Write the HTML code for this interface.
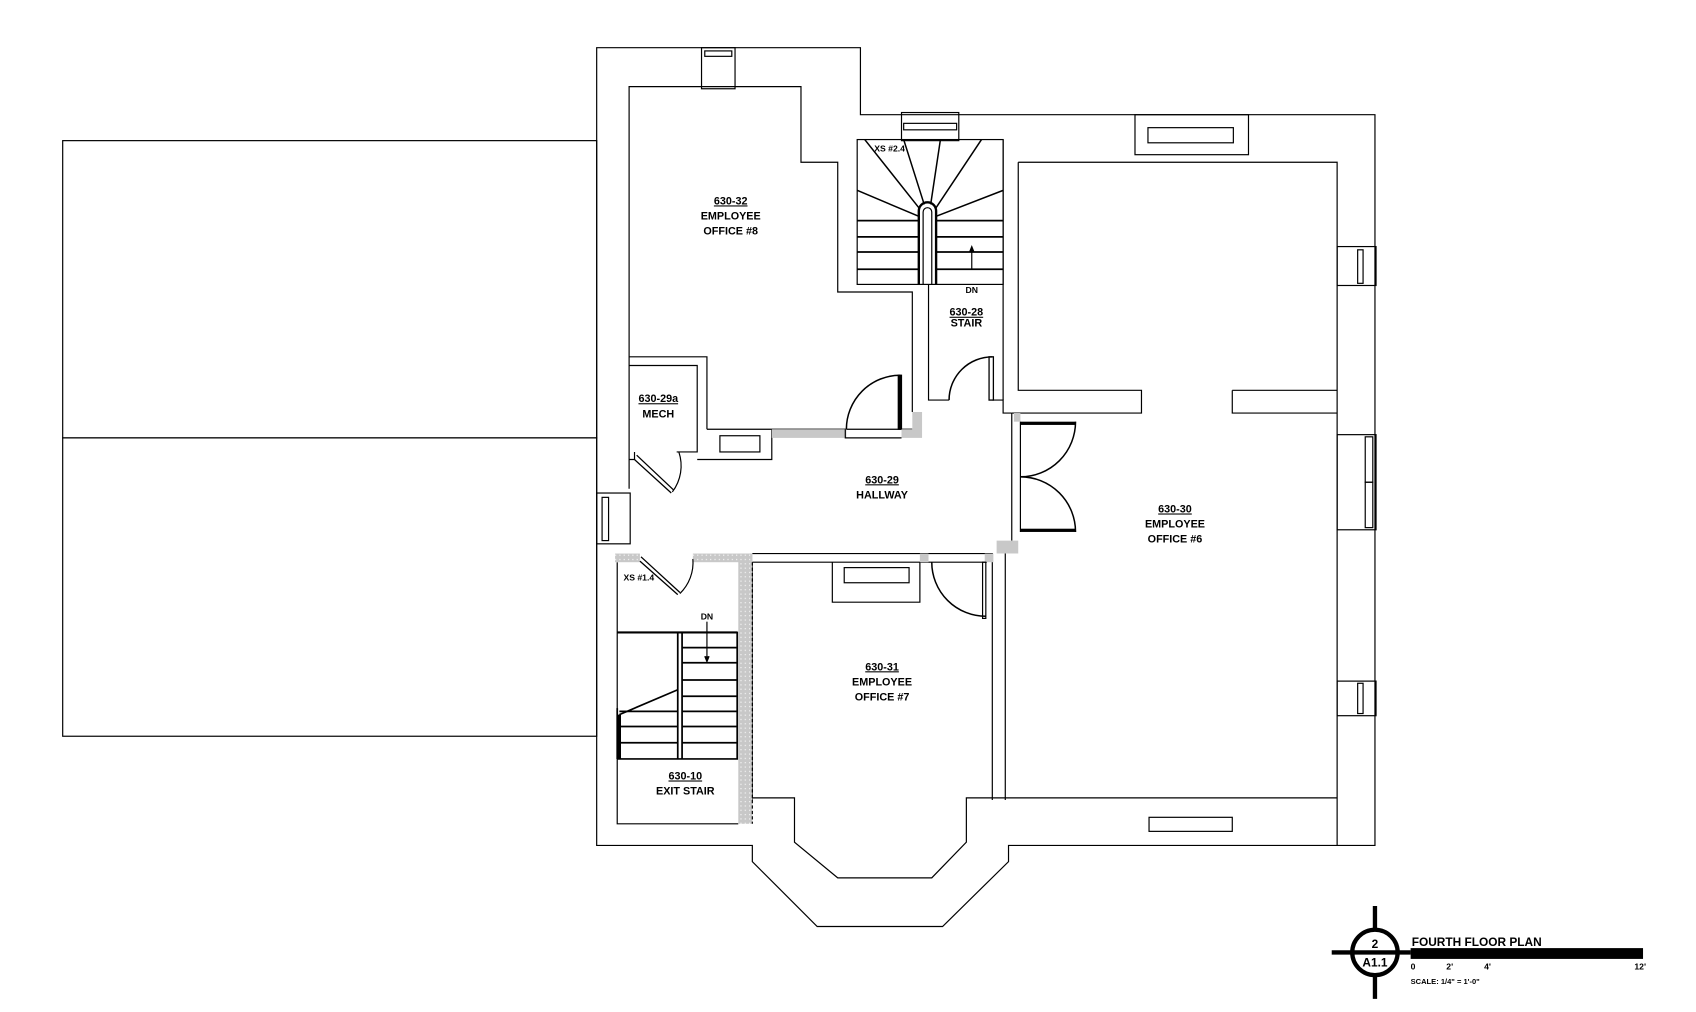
<!DOCTYPE html>
<html><head><meta charset="utf-8"><style>html,body{margin:0;padding:0;background:#fff}svg{display:block}</style></head><body>
<svg width="1696" height="1012" viewBox="0 0 1569 936" xmlns="http://www.w3.org/2000/svg" font-family="Liberation Sans, sans-serif" font-weight="bold">
<defs><pattern id="h" width="4" height="4" patternUnits="userSpaceOnUse"><rect width="4" height="4" fill="#c8c8c8"/><rect x="1" y="1" width="1" height="1" fill="#fff"/></pattern></defs>
<g fill="none" stroke="#000" stroke-width="1.1">
<rect x="58" y="130" width="494" height="275"/><rect x="58" y="405" width="494" height="276"/>
<path d="M552,44 H796 V106 H1272 V782 H933 V797 L872,857 H756 L696,797 V782 H552 Z"/>
<path d="M696,738 H735 V779 L775,812 H862 L894,779 V738 H1237"/>
<path d="M582,452 V80 H741 V150 H775 V270 H844 V381"/>
<path d="M654,397 H844"/>
<path d="M582,330 H654 V397"/><path d="M582,338 H645 V418 H626"/>
<path d="M645,425 H714 V397"/><rect x="666" y="403" width="37" height="15"/>
<path d="M587,418 V425 H582"/>
<rect x="649" y="44" width="31" height="38"/><rect x="652" y="47" width="25" height="5"/>
<rect x="834" y="104" width="53" height="26"/><rect x="836" y="114" width="49" height="6"/>
<rect x="793" y="129" width="135" height="134"/>
<path d="M859,263 V370 H878"/><path d="M918,370 H928 V382 H936"/>
<path d="M850,263 V195 A8,8 0 0 1 866,195 V263" stroke-width="2.2"/>
<path d="M854,263 V196 A4,4 0 0 1 862,196 V263"/>
<path d="M793,204 H850 M793,219 H850 M793,233 H850 M793,249 H850 M866,204 H928 M866,219 H928 M866,233 H928 M866,249 H928" stroke-width="1.6"/>
<path d="M800,129 L850,192 M793,176 L850,200 M836,129 L855,189 M861,189 L870,129 M866,192 L908,129 M866,200 L928,176" stroke-width="1.4"/>
<path d="M899,249 V229" /><path d="M897,233 L899,228 L901,233" fill="#000"/>
<path d="M878,370 A40,40 0 0 1 918,330" stroke-width="1.4"/><rect x="915" y="330" width="4" height="40" stroke-width="1.2"/>
<path d="M783,397 A50,50 0 0 1 833,347" stroke-width="1.4"/><rect x="831" y="347" width="3" height="50" fill="#000"/>
<rect x="714" y="397" width="69" height="8" fill="#c8c8c8" stroke="none"/>
<path d="M782,397 V405 H834" />
<path d="M834,397 H844 V381 H853 V405 H834 Z" fill="#c8c8c8" stroke="none"/>
<path d="M928,129 V370"/>
<path d="M942,150 H1237 V782 M942,150 V361 H1056 V382 H936"/>
<path d="M1140,361 H1237 M1140,361 V382 H1237"/>
<rect x="1050" y="106" width="105" height="37"/><rect x="1062" y="118" width="79" height="14"/>
<rect x="1063" y="756" width="77" height="13"/>
<rect x="1237" y="228" width="36" height="36"/><rect x="1256" y="231" width="5" height="31"/>
<rect x="1237" y="402" width="36" height="88"/><rect x="1263" y="404" width="7" height="42"/><rect x="1263" y="446" width="7" height="42"/>
<rect x="1237" y="630" width="36" height="32"/><rect x="1256" y="632" width="5" height="28"/>
<rect x="552" y="456" width="31" height="47"/><rect x="557" y="460" width="6" height="40"/>
<path d="M936,382 V500 M944,390 V492"/>
<rect x="938" y="382" width="6" height="8" fill="#c8c8c8" stroke="none"/>
<rect x="944" y="390" width="51" height="3" fill="#000" stroke="none"/>
<rect x="944" y="489" width="51" height="3" fill="#000" stroke="none"/>
<path d="M995,390 A51,51 0 0 1 944,441 M944,441 A51,51 0 0 1 995,492" stroke-width="1.4"/>
<path d="M942,492 V500 H922 V512 H942 Z" fill="#c8c8c8" stroke="none"/>
<path d="M696,512 H918 V740 M696,520 V740 M696,520 H913 M930,512 V740"/>
<path d="M770,520 V557 H851 V520"/><rect x="781" y="525" width="60" height="14"/>
<rect x="851" y="512" width="8" height="8" fill="#c8c8c8" stroke="none"/>
<rect x="911" y="512" width="8" height="8" fill="#c8c8c8" stroke="none"/>
<path d="M862,520 A50,50 0 0 0 912,570" stroke-width="1.4"/><rect x="909" y="520" width="3" height="52"/>
<path d="M571,520 V762 H683"/>
<rect x="569" y="512" width="23" height="8" fill="url(#h)" stroke="none"/>
<rect x="641" y="512" width="55" height="8" fill="url(#h)" stroke="none"/>
<rect x="683" y="512" width="13" height="250" fill="url(#h)" stroke="none"/>
<path d="M696,520 V762" stroke-dasharray="3,2"/>
<path d="M592,519 L627,550 M593,515 L629,548" stroke-width="1.2"/><path d="M629,549 A40,40 0 0 0 641,517" />
<path d="M587,425 L621,456 M589,421 L623,453" stroke-width="1.2"/><path d="M622,455 A40,40 0 0 0 628,418"/>
<path d="M571,585 H682 V702 H571 M571,655 V702" stroke-width="1.6"/>
<path d="M571,585 H682" stroke-width="2"/>
<path d="M627,585 V702 M631,585 V702" stroke-width="1.6"/>
<path d="M631,599 H682 M631,613 H682 M631,629 H682 M631,644 H682 M631,658 H682 M631,672 H682 M631,687 H682 M573,658 H627 M573,672 H627 M573,687 H627" stroke-width="1.6"/>
<path d="M573,661 L627,638" stroke-width="1.6"/><path d="M573,661 V702" stroke-width="3"/>
<path d="M654,575 V611"/><path d="M652,607 L654,612 L656,607" fill="#000"/>
<circle cx="1272" cy="881" r="21" stroke-width="4"/>
<path d="M1272,838 V860 M1272,902 V924 M1232,881 H1305" stroke-width="4"/>
</g>
<rect x="1305" y="877" width="215" height="10" fill="#000"/>
<g font-size="10" text-anchor="middle" fill="#000">
<text x="676" y="189" text-decoration="underline">630-32</text><text x="676" y="203">EMPLOYEE</text><text x="676" y="217">OFFICE #8</text>
<text x="609" y="372" text-decoration="underline">630-29a</text><text x="609" y="386">MECH</text>
<text x="894" y="292" text-decoration="underline">630-28</text><text x="894" y="302">STAIR</text>
<text x="899" y="271" font-size="8">DN</text>
<text x="823" y="140" font-size="8">XS #2.4</text>
<text x="816" y="447" text-decoration="underline">630-29</text><text x="816" y="461">HALLWAY</text>
<text x="1087" y="474" text-decoration="underline">630-30</text><text x="1087" y="474" dy="14">EMPLOYEE</text>
<text x="1087" y="502" dy="0">OFFICE #6</text>
<text x="816" y="620" text-decoration="underline">630-31</text><text x="816" y="634">EMPLOYEE</text><text x="816" y="648">OFFICE #7</text>
<text x="634" y="721" text-decoration="underline">630-10</text><text x="634" y="735">EXIT STAIR</text>
<text x="654" y="573" font-size="8">DN</text>
<text x="591" y="537" font-size="8">XS #1.4</text>
<text x="1272" y="877" font-size="11">2</text>
<text x="1272" y="894" font-size="11">A1.1</text>
</g>
<g font-size="10" fill="#000">
<text x="1306" y="875" font-size="11">FOURTH FLOOR PLAN</text>
<text x="1305" y="897" font-size="8">0</text><text x="1338" y="897" font-size="8">2'</text><text x="1373" y="897" font-size="8">4'</text><text x="1512" y="897" font-size="8">12'</text>
<text x="1305" y="910" font-size="7">SCALE: 1/4" = 1'-0"</text>
</g>
</svg>
</body></html>
